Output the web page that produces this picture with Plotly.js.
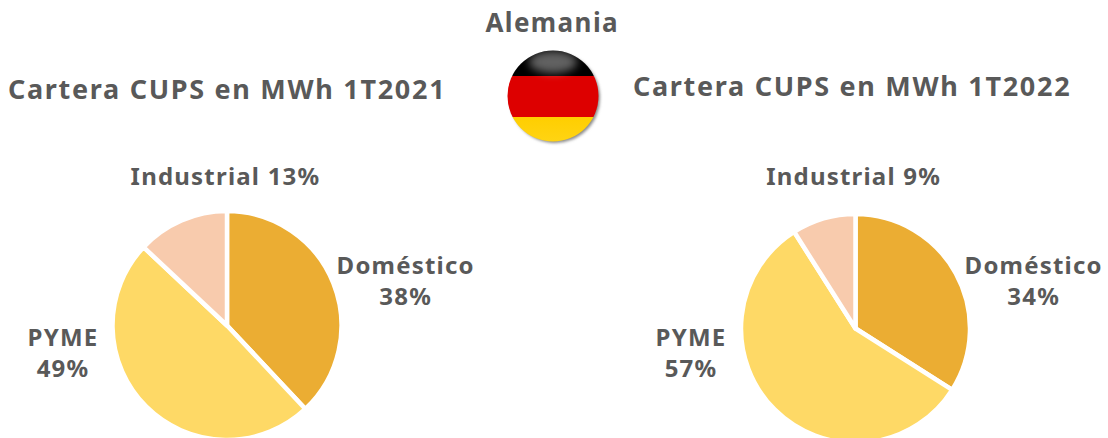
<!DOCTYPE html>
<html><head><meta charset="utf-8">
<script src="https://cdn.plot.ly/plotly-3.0.1.min.js"></script>
<style>html,body{margin:0;padding:0;width:1108px;height:438px;overflow:hidden;background:#fff}#c{width:1108px;height:500px}
.annotation text{letter-spacing:1.2px}
.annotation[data-index="0"] text{letter-spacing:1.4px}
.annotation[data-index="1"] text,.annotation[data-index="2"] text{letter-spacing:1.7px}
</style>
</head><body><div id="c"></div>
<script>
const categories = ["Doméstico", "PYME", "Industrial"];
const values2021 = [38, 49, 13];
const values2022 = [34, 57, 9];
const colors = ["#EBAD33", "#FED966", "#F8CBAD"];
const mainTitle = "Alemania";
const title2021 = "Cartera CUPS en MWh 1T2021";
const title2022 = "Cartera CUPS en MWh 1T2022";

const W = 1108, H = 500;
const FONT = "'Noto Sans', sans-serif";
const GREY = "#595959";

function pie(vals, cx, cy, r) {
  return {
    type: "pie", labels: categories, values: vals, sort: false, direction: "clockwise", rotation: 0,
    marker: {colors: colors, line: {color: "#fff", width: 4.5}},
    textinfo: "none", hoverinfo: "label+percent",
    domain: {x: [(cx - r) / W, (cx + r) / W], y: [1 - (cy + r) / H, 1 - (cy - r) / H]}
  };
}
function txt(text, x, y, size) {
  return {text: text, x: x / W, y: 1 - y / H, xref: "paper", yref: "paper", showarrow: false,
    xanchor: "center", yanchor: "middle", align: "center",
    font: {family: FONT, size: size, color: GREY, weight: 700}};
}
function two(i, vals) { return "<b>" + categories[i] + "<br>" + vals[i] + "%</b>"; }
function one(i, vals) { return "<b>" + categories[i] + " " + vals[i] + "%</b>"; }

const flag = `<svg xmlns="http://www.w3.org/2000/svg" width="120" height="120" viewBox="0 0 120 120">
<defs><clipPath id="k"><circle cx="58" cy="58" r="45.5"/></clipPath>
<filter id="b" x="-30%" y="-30%" width="160%" height="160%"><feGaussianBlur stdDeviation="1.6"/></filter>
<filter id="s" x="-50%" y="-50%" width="200%" height="200%"><feGaussianBlur stdDeviation="4"/></filter>
<linearGradient id="y" x1="0" y1="0" x2="0" y2="1"><stop offset="0" stop-color="#FFCE00"/><stop offset="1" stop-color="#FFD820"/></linearGradient></defs>
<circle cx="60" cy="60" r="45" fill="#888" filter="url(#b)"/>
<g clip-path="url(#k)">
<rect x="0" y="0" width="120" height="38" fill="#000"/>
<rect x="0" y="38" width="120" height="41" fill="#DD0000"/>
<rect x="0" y="79" width="120" height="41" fill="url(#y)"/>
<ellipse cx="58" cy="24" rx="24" ry="11" fill="#fff" opacity=".38" filter="url(#s)"/>
</g></svg>`;

const layout = {
  width: W, height: H, margin: {l: 0, r: 0, t: 0, b: 0}, showlegend: false,
  paper_bgcolor: "#fff", plot_bgcolor: "#fff",
  images: [{source: "data:image/svg+xml;charset=utf-8," + encodeURIComponent(flag),
    xref: "paper", yref: "paper", x: 495 / W, y: 1 - 38 / H, sizex: 120 / W, sizey: 120 / H,
    xanchor: "left", yanchor: "top", sizing: "stretch", layer: "above"}],
  annotations: [
    txt("<b>" + mainTitle + "</b>", 552, 22, 26),
    txt("<b>" + title2021 + "</b>", 227, 89, 27),
    txt("<b>" + title2022 + "</b>", 852, 86, 27),
    txt(one(2, values2021), 225, 175, 24),
    txt(two(0, values2021), 405, 280, 24),
    txt(two(1, values2021), 63, 352, 24),
    txt(one(2, values2022), 853, 175, 24),
    txt(two(0, values2022), 1033, 280, 24),
    txt(two(1, values2022), 691, 352, 24)
  ]
};
Plotly.newPlot("c", [pie(values2021, 227, 325.5, 114.5), pie(values2022, 855.5, 328.5, 114.5)], layout,
  {displayModeBar: false, staticPlot: true});
</script></body></html>
